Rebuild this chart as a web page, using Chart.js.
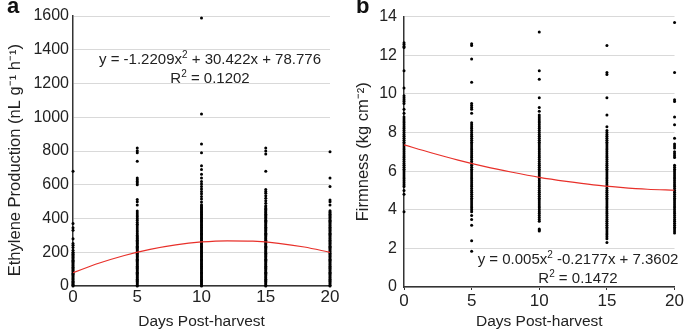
<!DOCTYPE html>
<html>
<head>
<meta charset="utf-8">
<script src="https://cdn.jsdelivr.net/npm/chart.js@4"></script>
<style>
  body { margin: 0; background: #fff; font-family: "Liberation Sans", Arial, sans-serif; }
  #wrap { position: relative; width: 685px; height: 331px; overflow: hidden; }
  .panel { position: absolute; top: 0; height: 331px; }
  .tag { position: absolute; font-weight: bold; font-size: 22px; color: #111; }
  .eq { position: absolute; font-size: 15px; color: #222; text-align: center; line-height: 19px; white-space: nowrap; }
  .eq sup { font-size: 10px; line-height: 0; }
</style>
</head>
<body>
<div id="wrap">
  <div class="panel" style="left:0;width:345px"><canvas id="chartA"></canvas></div>
  <div class="panel" style="left:345px;width:340px"><canvas id="chartB"></canvas></div>
  <div class="tag" style="left:7px;top:-7px">a</div>
  <div class="tag" style="left:356px;top:-7px">b</div>
  <div class="eq" style="left:210px;top:49px;transform:translateX(-50%)">y = -1.2209x<sup>2</sup> + 30.422x + 78.776<br>R<sup>2</sup> = 0.1202</div>
  <div class="eq" style="left:578px;top:249px;transform:translateX(-50%)">y = 0.005x<sup>2</sup> -0.2177x + 7.3602<br>R<sup>2</sup> = 0.1472</div>
</div>
<script>
const days = [0, 5, 10, 15, 20];

// ethylene production (nL g-1 h-1) per sampling day
const eth0 = [0, 4, 9, 15, 22, 28, 35, 41, 48, 55, 62, 69, 76, 83, 90, 97, 104, 111, 118, 125, 132, 139, 146, 153, 160, 167, 174, 181, 188, 195, 200,
  212, 228, 242, 252, 280, 330, 345, 370, 680];
const eth5 = [0, 5, 12, 19, 26, 33, 40, 47, 54, 61, 68, 75, 82, 89, 96, 103, 110, 117, 124, 131, 138, 145, 152, 159, 166, 173, 180, 187, 194, 201,
  208, 215, 222, 229, 236, 243, 250, 257, 264, 271, 278, 285, 292, 299, 310, 321, 332, 343, 355, 366, 377, 388, 399, 410, 421, 433, 445,
  480, 500, 512, 600, 610, 620, 630, 640, 740, 790, 802, 818];
const eth10 = [0, 5, 12, 19, 26, 33, 40, 47, 54, 61, 68, 75, 82, 89, 96, 103, 110, 117, 124, 131, 138, 145, 152, 159, 166, 173, 180, 187, 194, 201,
  208, 215, 222, 229, 236, 243, 250, 257, 264, 271, 278, 285, 292, 299, 306, 313, 320, 327, 334, 341, 348, 355, 362, 369, 376, 383, 390,
  397, 404, 411, 418, 425, 432, 439, 446, 453, 460, 467, 474, 481,
  498, 515, 530, 546, 560, 575, 590, 605, 620, 640, 662, 690, 712, 790, 842, 1020, 1588];
const eth15 = [0, 5, 12, 19, 26, 33, 40, 47, 54, 61, 68, 75, 82, 89, 96, 103, 110, 117, 124, 131, 138, 145, 152, 159, 166, 173, 180, 187, 194, 201,
  208, 215, 222, 229, 236, 243, 250, 257, 264, 271, 278, 285, 292, 299, 306, 313, 320, 327, 334, 341, 348, 355, 362, 369, 376, 383, 390,
  397, 404, 411, 418, 425, 432, 439, 446, 453, 460, 468, 476,
  490, 505, 520, 535, 550, 560, 572, 680, 782, 800, 818];
const eth20 = [0, 5, 12, 19, 26, 33, 40, 47, 54, 61, 68, 75, 82, 89, 96, 103, 110, 117, 124, 131, 138, 145, 152, 159, 166, 173, 180, 187, 194, 201,
  208, 215, 222, 229, 236, 243, 250, 257, 264, 271, 278, 285, 292, 299, 306, 313, 320, 327, 334, 341, 348, 355, 362, 369, 376, 383, 390,
  397, 404, 411, 418, 425, 432, 439, 446,
  480, 500, 510, 590, 640, 795];

// firmness (kg cm-2) per sampling day
const firm0 = [12.65, 12.55, 12.45, 12.4, 11.2, 10.3, 9.9, 9.8, 9.7, 9.6, 9.5, 9.2, 9.0,
  8.8, 8.7, 8.6, 8.5, 8.4, 8.3, 8.2, 8.1, 8.0, 7.9, 7.8, 7.7, 7.6, 7.5, 7.4, 7.3, 7.2, 7.1, 7.0, 6.9, 6.8, 6.7, 6.6, 6.5,
  6.4, 6.3, 6.2, 6.1, 6.0, 5.9, 5.8, 5.7, 5.6, 5.5, 5.4, 5.3, 5.2, 5.0, 4.8, 3.9];
const firm5 = [12.6, 12.5, 11.8, 10.6, 9.5, 9.4, 9.3, 9.2, 9.0,
  8.5, 8.4, 8.3, 8.2, 8.1, 8.0, 7.9, 7.8, 7.7, 7.6, 7.5, 7.4, 7.3, 7.2, 7.1, 7.0, 6.9, 6.8, 6.7, 6.6, 6.5, 6.4, 6.3, 6.2,
  6.1, 6.0, 5.9, 5.8, 5.7, 5.6, 5.5, 5.4, 5.3, 5.2, 5.1, 5.0, 4.9, 4.8, 4.7, 4.6, 4.5, 4.4, 4.3, 4.2, 4.1, 4.0, 3.9,
  3.7, 3.5, 3.2, 2.4, 1.85];
const firm10 = [13.2, 11.2, 10.75, 9.8, 9.3, 9.1, 8.9,
  8.8, 8.7, 8.6, 8.5, 8.4, 8.3, 8.2, 8.1, 8.0, 7.9, 7.8, 7.7, 7.6, 7.5, 7.4, 7.3, 7.2, 7.1, 7.0, 6.9, 6.8, 6.7, 6.6, 6.5,
  6.4, 6.3, 6.2, 6.1, 6.0, 5.9, 5.8, 5.7, 5.6, 5.5, 5.4, 5.3, 5.2, 5.1, 5.0, 4.9, 4.8, 4.7, 4.6, 4.5, 4.4, 4.3, 4.2,
  4.1, 4.0, 3.9, 3.8, 3.7, 3.6, 3.5, 3.4, 3.0, 2.95, 2.9];
const firm15 = [12.5, 11.1, 11.0, 9.8, 8.9, 8.3,
  8.1, 8.0, 7.9, 7.8, 7.7, 7.6, 7.5, 7.4, 7.3, 7.2, 7.1, 7.0, 6.9, 6.8, 6.7, 6.6, 6.5, 6.4, 6.3, 6.2, 6.1, 6.0, 5.9, 5.8,
  5.7, 5.6, 5.5, 5.4, 5.3, 5.2, 5.1, 5.0, 4.9, 4.8, 4.7, 4.6, 4.5, 4.4, 4.3, 4.2, 4.1, 4.0, 3.9, 3.8, 3.7, 3.6, 3.5,
  3.4, 3.3, 3.2, 3.1, 3.0, 2.9, 2.8, 2.7, 2.6, 2.5, 2.3];
const firm20 = [13.7, 11.1, 9.7, 9.6, 8.8, 8.4, 7.7, 7.4, 7.3, 7.2, 7.0, 6.9, 6.8, 6.7,
  6.3, 6.2, 6.1, 6.0, 5.9, 5.8, 5.7, 5.6, 5.5, 5.4, 5.3, 5.2, 5.1, 5.0, 4.9, 4.8, 4.7, 4.6, 4.5, 4.4, 4.3, 4.2, 4.1,
  4.0, 3.9, 3.8, 3.7, 3.6, 3.5, 3.4, 3.3, 3.2, 3.1, 3.0, 2.9, 2.8];

// fitted curves
const trendX = [0, 2, 4, 6, 8, 10, 12, 14, 16, 18, 20];
const ethTrend = [78.8, 134.7, 181.0, 217.4, 244.0, 260.9, 268.0, 265.4, 253.1, 231.0, 199.2];
const firmTrend = [7.36, 6.95, 6.57, 6.23, 5.94, 5.68, 5.47, 5.29, 5.16, 5.06, 5.01];

const toPoints = (cols) => days.flatMap((d, i) => cols[i].map(v => ({ x: d, y: v })));
const FONT = 'Liberation Sans';

function makeChart(id, cols, trend, cfg) {
  const ctx = document.getElementById(id).getContext('2d');
  return new Chart(ctx, {
    type: 'scatter',
    data: {
      datasets: [
        { data: toPoints(cols), backgroundColor: '#000', pointRadius: 1.5, borderWidth: 0, clip: false, order: 2 },
        { type: 'line', data: trendX.map((x, i) => ({ x: x, y: trend[i] })), borderColor: '#e8302a', borderWidth: 1.2,
          pointRadius: 0, cubicInterpolationMode: 'monotone', fill: false, order: 1 }
      ]
    },
    options: {
      responsive: true, maintainAspectRatio: false, animation: false,
      layout: { padding: { top: cfg.top, right: cfg.right, left: 0, bottom: 0 } },
      plugins: { legend: { display: false }, tooltip: { enabled: false } },
      scales: {
        x: {
          type: 'linear', min: 0, max: 20,
          ticks: { stepSize: 5, font: { family: FONT, size: 17 }, color: '#222', padding: 1 },
          grid: { display: true, drawOnChartArea: false, tickLength: cfg.xTick, color: '#333' },
          border: { color: '#333', width: 1.5 },
          title: { display: true, text: 'Days Post-harvest', font: { family: FONT, size: 15.5 }, color: '#222', padding: { top: 0, bottom: 0 } },
          afterFit: s => { s.height = cfg.xh; }
        },
        y: {
          min: 0, max: cfg.ymax,
          ticks: { stepSize: cfg.step, font: { family: FONT, size: 16 }, color: '#222', padding: cfg.tickPad,
            callback: v => String(v) },
          grid: { color: '#d9d9d9', drawTicks: false, lineWidth: 1 },
          border: { color: '#333', width: 1.5 },
          title: { display: true, text: cfg.ytitle, font: { family: FONT, size: 16.5 }, color: '#222', padding: { top: cfg.tpad, bottom: 0 } },
          afterFit: s => { s.width = cfg.yw; }
        }
      }
    }
  });
}

makeChart('chartA', [eth0, eth5, eth10, eth15, eth20], ethTrend,
  { ymax: 1600, step: 200, yw: 73, right: 15, top: 16, xh: 45, xTick: 0, tpad: 6, tickPad: 4,
    ytitle: 'Ethylene Production (nL g\u207B\u00B9 h\u207B\u00B9)    ' });
makeChart('chartB', [firm0, firm5, firm10, firm15, firm20], firmTrend,
  { ymax: 14, step: 2, yw: 59, right: 9, top: 16, xh: 44, xTick: 3, tpad: 9, tickPad: 7,
    ytitle: 'Firmness (kg cm\u207B\u00B2)' });
</script>
</body>
</html>
